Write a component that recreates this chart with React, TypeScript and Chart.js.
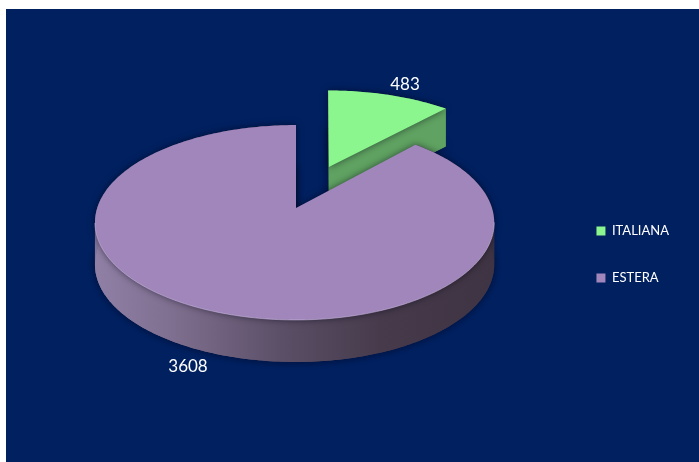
import React, { useEffect, useRef } from "react";
import { Chart, registerables } from "chart.js";

Chart.register(...registerables);

const categories = ["ITALIANA", "ESTERA"];
const values = [483, 3608];
const sliceColors = ["#8bf58e", "#a086ba"];
const wallColors = ["#5fa261", null];
const explode = [0.4936, 0];

// Tilted-disc projection: the apex of the pie and the perspective of its plane.
const APEX = { x: 296, y: 208 };
const SPAN = { left: 198.8, right: 196, depth: 95.3, persp: 0.1487 };
const WALL = [38, 42];
const RIM_SCALE = [1.05, 1];
const RIM_LEAN = [3.5, 0];
const VALUE_LABEL_AT = [
  { x: 405, y: 85 },
  { x: 188, y: 367 },
];

type Pt = { x: number; y: number };

function project(u: number, v: number): Pt {
  const w = 1 + SPAN.persp * v;
  const a = u >= 0 ? SPAN.right : SPAN.left;
  return { x: APEX.x + (a * u) / w, y: APEX.y - (SPAN.depth * v) / w };
}

function rimPoints(start: number, end: number, du: number, dv: number, scale: number, lean: number): Pt[] {
  const pts: Pt[] = [];
  const steps = Math.max(2, Math.ceil((end - start) / (Math.PI / 180)));
  for (let i = 0; i <= steps; i++) {
    const a = start + ((end - start) * i) / steps;
    const t = a + Math.PI / 2;
    const p = project(du + scale * Math.sin(t), dv + scale * Math.cos(t));
    pts.push({ x: p.x + lean * Math.cos(t), y: p.y });
  }
  return pts;
}

function trace(ctx: CanvasRenderingContext2D, pts: Pt[], dy = 0) {
  ctx.beginPath();
  pts.forEach((p, i) => (i ? ctx.lineTo(p.x, p.y + dy) : ctx.moveTo(p.x, p.y + dy)));
  ctx.closePath();
}

const tiltedPie = {
  id: "tiltedPie",
  beforeDraw(chart: any) {
    const { ctx, width, height } = chart;
    ctx.save();
    ctx.fillStyle = "#ffffff";
    ctx.fillRect(0, 0, width, height);
    ctx.fillStyle = "#002060";
    ctx.fillRect(6, 9, width - 6, height - 9);
    ctx.restore();
  },
  beforeDatasetsDraw(chart: any) {
    const { ctx } = chart;
    const arcs = chart.getDatasetMeta(0).data;
    arcs.forEach((arc: any, i: number) => {
      const mid = (arc.startAngle + arc.endAngle) / 2 + Math.PI / 2;
      const du = explode[i] * Math.sin(mid);
      const dv = explode[i] * Math.cos(mid);
      const rim = rimPoints(arc.startAngle, arc.endAngle, du, dv, RIM_SCALE[i], RIM_LEAN[i]);
      const apex = project(du, dv);
      const top = [apex, ...rim];
      const t = WALL[i];

      let wallFill: any = wallColors[i];
      if (!wallFill) {
        const g = ctx.createLinearGradient(95, 0, 493, 0);
        g.addColorStop(0, "#9080a6");
        g.addColorStop(0.22, "#7c6c8c");
        g.addColorStop(0.47, "#5b4f67");
        g.addColorStop(0.72, "#463a4b");
        g.addColorStop(1, "#3f3443");
        wallFill = g;
      }

      ctx.save();
      ctx.shadowColor = "rgba(0,0,20,0.6)";
      ctx.shadowBlur = 9;
      ctx.fillStyle = wallFill;
      trace(ctx, top, t);
      ctx.fill();
      ctx.restore();

      ctx.save();
      ctx.fillStyle = wallFill;
      rim.slice(1).forEach((p, k) => {
        const q = rim[k];
        trace(ctx, [q, p, { x: p.x, y: p.y + t }, { x: q.x, y: q.y + t }]);
        ctx.fill();
      });
      // Front cut face of the pulled-out slice.
      if (i === 0) {
        const tip = rim[rim.length - 1];
        trace(ctx, [apex, tip, { x: tip.x, y: tip.y + t }, { x: apex.x, y: apex.y + t }]);
        ctx.fill();
      }
      ctx.restore();

      ctx.save();
      ctx.shadowColor = "rgba(0,0,20,0.55)";
      ctx.shadowBlur = 7;
      ctx.fillStyle = arc.options.backgroundColor;
      trace(ctx, top);
      ctx.fill();
      ctx.restore();

      // Soft highlight along the visible front rim of the large slice.
      if (i === 1) {
        ctx.save();
        ctx.strokeStyle = "rgba(205,190,225,0.55)";
        ctx.lineWidth = 1;
        ctx.beginPath();
        let started = false;
        rim.forEach((p) => {
          if (p.y < APEX.y + 14) return;
          if (started) ctx.lineTo(p.x, p.y);
          else ctx.moveTo(p.x, p.y);
          started = true;
        });
        ctx.stroke();
        ctx.restore();
      }
    });
    return false;
  },
  afterDraw(chart: any) {
    const { ctx } = chart;
    ctx.save();
    ctx.fillStyle = "#ffffff";
    ctx.font = "17px Lato";
    ctx.textAlign = "center";
    ctx.textBaseline = "middle";
    values.forEach((v, i) => ctx.fillText(String(v), VALUE_LABEL_AT[i].x, VALUE_LABEL_AT[i].y));
    ctx.restore();
  },
};

export default function App() {
  const ref = useRef<HTMLCanvasElement | null>(null);
  useEffect(() => {
    const chart = new Chart(ref.current as HTMLCanvasElement, {
      type: "pie",
      data: {
        labels: categories,
        datasets: [{ data: values, backgroundColor: sliceColors, borderWidth: 0 }],
      },
      options: {
        responsive: false,
        animation: false,
        layout: { padding: { top: 47, right: 20 } },
        plugins: {
          tooltip: { enabled: false },
          legend: {
            position: "right",
            labels: {
              color: "#ffffff",
              boxWidth: 9,
              boxHeight: 9,
              padding: 34,
              font: { family: "Lato", size: 13 },
            },
          },
        },
      },
      plugins: [tiltedPie],
    } as any);
    return () => chart.destroy();
  }, []);
  return (
    <canvas
      ref={ref}
      width={699}
      height={462}
      style={{ position: "absolute", left: 0, top: 0, display: "block" }}
    />
  );
}
